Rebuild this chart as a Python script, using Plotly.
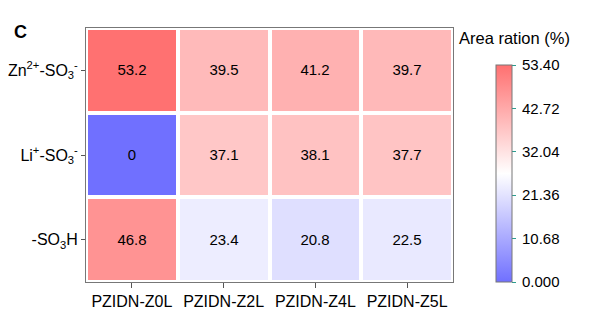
import plotly.graph_objects as go

samples = ["PZIDN-Z0L", "PZIDN-Z2L", "PZIDN-Z4L", "PZIDN-Z5L"]
species = ["-SO<sub>3</sub>H", "Li<sup>+</sup>-SO<sub>3</sub><sup>-</sup>", "Zn<sup>2+</sup>-SO<sub>3</sub><sup>-</sup>"]
so3h = [46.8, 23.4, 20.8, 22.5]
li_so3 = [0, 37.1, 38.1, 37.7]
zn_so3 = [53.2, 39.5, 41.2, 39.7]
z = [so3h, li_so3, zn_so3]
cb_vals = [0, 10.68, 21.36, 32.04, 42.72, 53.40]
cb_text = ["0.000", "10.68", "21.36", "32.04", "42.72", "53.40"]

FONT = "Liberation Sans, Arial, sans-serif"
W, H = 591 - 86 - 138, 319 - 28 - 37

fig = go.Figure(go.Heatmap(
    x=samples, y=species, z=z,
    zmin=0, zmax=53.4,
    colorscale=[[0, "rgb(112,112,255)"], [0.5, "rgb(255,255,255)"], [1, "rgb(255,112,112)"]],
    xgap=4, ygap=4,
    text=[[f"{v:g}" for v in row] for row in z],
    texttemplate="%{text}",
    textfont=dict(size=15, color="black", family=FONT),
    hoverinfo="skip",
    colorbar=dict(
        x=(496 - 86) / W, xanchor="left", xref="paper",
        y=0, yanchor="bottom", yref="paper",
        thickness=16, thicknessmode="pixels",
        len=217, lenmode="pixels",
        outlinecolor="#777777", outlinewidth=1,
        tickvals=cb_vals, ticktext=["\u2009" + t for t in cb_text],
        ticks="outside", ticklen=4, tickcolor="#2a9d8f", tickwidth=1,
        tickfont=dict(size=15, color="black", family=FONT),
        xpad=0, ypad=0,
    ),
))

fig.update_layout(
    width=591, height=319,
    margin=dict(l=86, r=138, t=28, b=37, autoexpand=False),
    paper_bgcolor="white", plot_bgcolor="white",
    font=dict(family=FONT, color="black"),
    xaxis=dict(showline=True, linecolor="#777777", linewidth=1, mirror=True,
               ticks="outside", ticklen=5, tickcolor="#555555",
               tickfont=dict(size=16), showgrid=False, zeroline=False),
    yaxis=dict(showline=True, linecolor="#777777", linewidth=1, mirror=True,
               ticks="outside", ticklen=4, tickcolor="#555555",
               tickfont=dict(size=16), showgrid=False, zeroline=False),
)
fig.add_annotation(text="Area ration (%)", xref="paper", yref="paper",
                   x=(457 - 86) / W, y=(282 - 38) / H,
                   xanchor="left", yanchor="middle", showarrow=False, font=dict(size=16.5))
fig.add_annotation(text="<b>C</b>", xref="paper", yref="paper",
                   x=(12 - 86) / W, y=(282 - 32) / H,
                   xanchor="left", yanchor="middle", showarrow=False, font=dict(size=18))

fig.write_html("out.html")
